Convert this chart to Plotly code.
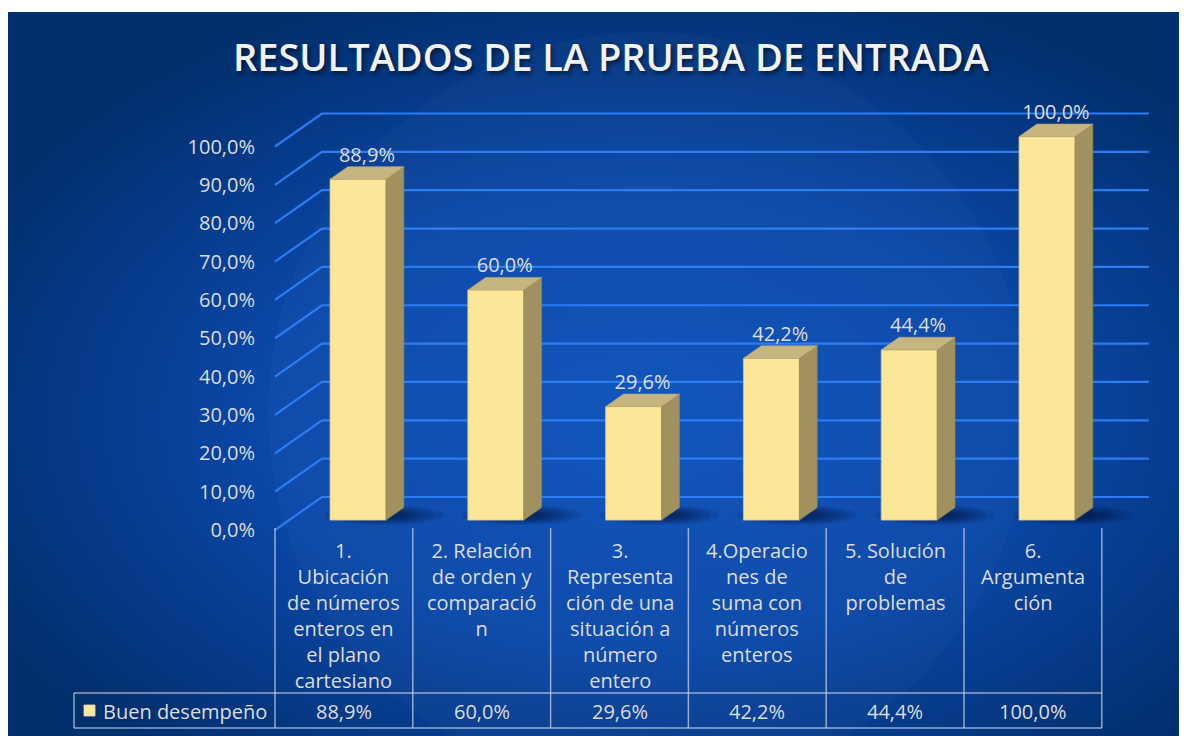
import base64
import numpy as np
import plotly.graph_objects as go

# ---------------- data ----------------
categories = [
    "1.<br>Ubicación<br>de números<br>enteros en<br>el plano<br>cartesiano",
    "2. Relación<br>de orden y<br>comparació<br>n",
    "3.<br>Representa<br>ción de una<br>situación a<br>número<br>entero",
    "4.Operacio<br>nes de<br>suma con<br>números<br>enteros",
    "5. Solución<br>de<br>problemas",
    "6.<br>Argumenta<br>ción",
]
values = [88.9, 60.0, 29.6, 42.2, 44.4, 100.0]
series_name = "Buen desempeño"
y_ticks = [0, 10, 20, 30, 40, 50, 60, 70, 80, 90, 100]
title_text = "RESULTADOS DE LA PRUEBA DE ENTRADA"


def fmt(v):
    return f"{v:.1f}%".replace(".", ",")


# ---------------- geometry / style ----------------
PAGE_OFF = 8                 # page body margin
W, H = 1187 - PAGE_OFF, 736 - PAGE_OFF
L, R, T, B = 260, 30, 98, 202
plot_w = W - L - R
plot_h = H - T - B
PXC = 137.8          # px per category
PXV = 3.835          # px per percent
X_LEFT_PX = 275      # page pixel of category boundary -0.5 (front)
Y_ZERO_PX = 530      # page pixel of 0% (front)
xmin = -0.5 - (X_LEFT_PX - PAGE_OFF - L) / PXC
xmax = xmin + plot_w / PXC
ymin = -((H - B) - (Y_ZERO_PX - PAGE_OFF)) / PXV
ymax = ymin + plot_h / PXV

DX = 47 / PXC        # depth offset in category units
DY = 33 / PXV        # depth offset in percent units
D1, D2 = 0.30, 0.68  # bar front/back depth
BW = 0.406           # bar width

n = len(values)
GRID = "#2C7CF2"
TXT = "#DCDCDC"
FONT = "Open Sans"


def xp(px):
    return (px - PAGE_OFF - L) / plot_w


def yp(py):
    return ((H - B) - (py - PAGE_OFF)) / plot_h


def path(xs, ys):
    return "M " + " L ".join(f"{a:.5f},{b:.5f}" for a, b in zip(xs, ys)) + " Z"


fig = go.Figure()
shapes = []

# ---------- walls gridlines (below traces) ----------
for t in y_ticks:
    shapes.append(dict(type="path", xref="x", yref="y", layer="below",
                       path=f"M -0.5,{t} L {-0.5 + DX:.5f},{t + DY:.5f} L {n - 0.5 + DX:.5f},{t + DY:.5f}",
                       line=dict(color=GRID, width=2.2)))

# ---------- shadows (below traces) ----------
theta = np.linspace(0, 2 * np.pi, 48)[:-1]
for scale, alpha in [(1.0, 0.10), (0.85, 0.12), (0.7, 0.14), (0.55, 0.16), (0.4, 0.18)]:
    for i in range(n):
        xr_front = i + D1 * DX + BW / 2
        cx = xr_front - 2 / PXC
        cy = D1 * DY + 1.3
        rx = 60 * scale / PXC
        ry = 10 * scale / PXV
        shapes.append(dict(type="path", xref="x", yref="y", layer="below",
                           path=path(cx + rx * np.cos(theta), cy + ry * np.sin(theta)),
                           fillcolor=f"rgba(0,10,40,{alpha})", line=dict(width=0)))

# ---------- bar front faces ----------
bx = [i + D1 * DX for i in range(n)]
fig.add_trace(go.Bar(x=bx, y=values, base=[D1 * DY] * n, width=BW, name=series_name,
                     marker=dict(color="#FCE698", line=dict(color="#D8C27C", width=0.8)),
                     showlegend=False, hoverinfo="skip"))

# ---------- side and top faces ----------
ddx = (D2 - D1) * DX
b1, b2 = D1 * DY, D2 * DY
side_x, side_y, top_x, top_y = [], [], [], []
for i, v in enumerate(values):
    xl = i + D1 * DX - BW / 2
    xr = i + D1 * DX + BW / 2
    side_x += [xr, xr, xr + ddx, xr + ddx, xr, None]
    side_y += [b1, v + b1, v + b2, b2, b1, None]
    top_x += [xl, xr, xr + ddx, xl + ddx, xl, None]
    top_y += [v + b1, v + b1, v + b2, v + b2, v + b1, None]
fig.add_trace(go.Scatter(x=side_x, y=side_y, mode="lines", fill="toself",
                         fillcolor="#A0915F", line=dict(color="#938452", width=0.6),
                         hoverinfo="skip", showlegend=False))
fig.add_trace(go.Scatter(x=top_x, y=top_y, mode="lines", fill="toself",
                         fillcolor="#C5B580", line=dict(color="#B5A470", width=0.6),
                         hoverinfo="skip", showlegend=False))

# ---------- data labels ----------
fig.add_trace(go.Scatter(
    x=[i + (D1 + D2) / 2 * DX for i in range(n)],
    y=[v + b2 for v in values],
    mode="text", text=[fmt(v) for v in values], textposition="top center",
    textfont=dict(family=FONT, size=20, color=TXT),
    cliponaxis=False, hoverinfo="skip", showlegend=False))

# ---------- data table ----------
line_style = dict(color="rgba(205,215,235,0.7)", width=1.5)
col_px = [X_LEFT_PX + k * PXC for k in range(n + 1)]
for k, px in enumerate(col_px):
    shapes.append(dict(type="line", xref="paper", yref="paper", x0=xp(px), x1=xp(px),
                       y0=yp(528), y1=yp(728), line=line_style, layer="above"))
shapes.append(dict(type="line", xref="paper", yref="paper", x0=xp(74), x1=xp(74),
                   y0=yp(693), y1=yp(728), line=line_style))
for py in (693, 728):
    shapes.append(dict(type="line", xref="paper", yref="paper", x0=xp(74), x1=xp(col_px[-1]),
                       y0=yp(py), y1=yp(py), line=line_style))
# legend key
shapes.append(dict(type="rect", xref="paper", yref="paper", x0=xp(84), x1=xp(95),
                   y0=yp(716), y1=yp(705), fillcolor="#FCE698",
                   line=dict(color="#E8E0C0", width=0.8)))

annotations = []
for i, c in enumerate(categories):
    annotations.append(dict(xref="x", yref="paper", x=i, y=yp(535), yanchor="top",
                            xanchor="center", align="center", showarrow=False, text=c,
                            font=dict(family=FONT, size=20, color=TXT)))
    annotations.append(dict(xref="x", yref="paper", x=i, y=yp(711), yanchor="middle",
                            xanchor="center", showarrow=False, text=fmt(values[i]),
                            font=dict(family=FONT, size=20, color=TXT)))
annotations.append(dict(xref="paper", yref="paper", x=xp(101), y=yp(711), xanchor="left",
                        yanchor="middle", showarrow=False, text=series_name,
                        font=dict(family=FONT, size=20, color=TXT)))
annotations.append(dict(xref="paper", yref="paper", x=xp(611), y=yp(56), xanchor="center",
                        yanchor="middle", showarrow=False, text=title_text,
                        font=dict(family=FONT, size=38, color="#F2F2F2", weight=600,
                                  shadow="2px 3px 4px rgba(0,0,0,0.55)")))

# ---------- background ----------
bw, bh = W, H - 4
svg = f'''<svg xmlns="http://www.w3.org/2000/svg" width="{bw}" height="{bh}" viewBox="0 0 {bw} {bh}">
<defs>
<radialGradient id="g" cx="0.54" cy="0.56" r="0.62">
<stop offset="0" stop-color="#0D52BC"/>
<stop offset="0.5" stop-color="#0A48AA"/>
<stop offset="1" stop-color="#022F6D"/>
</radialGradient>
</defs>
<rect width="{bw}" height="{bh}" fill="url(#g)"/>
<circle cx="640" cy="400" r="380" fill="#ffffff" fill-opacity="0.025"/>
</svg>'''
src = "data:image/svg+xml;base64," + base64.b64encode(svg.encode()).decode()

fig.update_layout(
    width=W, height=H,
    margin=dict(l=L, r=R, t=T, b=B),
    paper_bgcolor="white", plot_bgcolor="rgba(0,0,0,0)",
    separators=",.",
    showlegend=False,
    images=[dict(source=src, xref="paper", yref="paper", x=xp(8), y=yp(12),
                 sizex=bw / plot_w, sizey=bh / plot_h, xanchor="left", yanchor="top",
                 sizing="stretch", layer="below")],
    xaxis=dict(range=[xmin, xmax], visible=False, fixedrange=True),
    yaxis=dict(range=[ymin, ymax], tickmode="array", tickvals=y_ticks,
               ticktext=[fmt(t) for t in y_ticks],
               showgrid=False, zeroline=False, showline=False, ticks="",
               ticklabelstandoff=12,
               tickfont=dict(family=FONT, size=20, color=TXT), fixedrange=True),
    shapes=shapes, annotations=annotations,
)

fig.write_html("out.html")
